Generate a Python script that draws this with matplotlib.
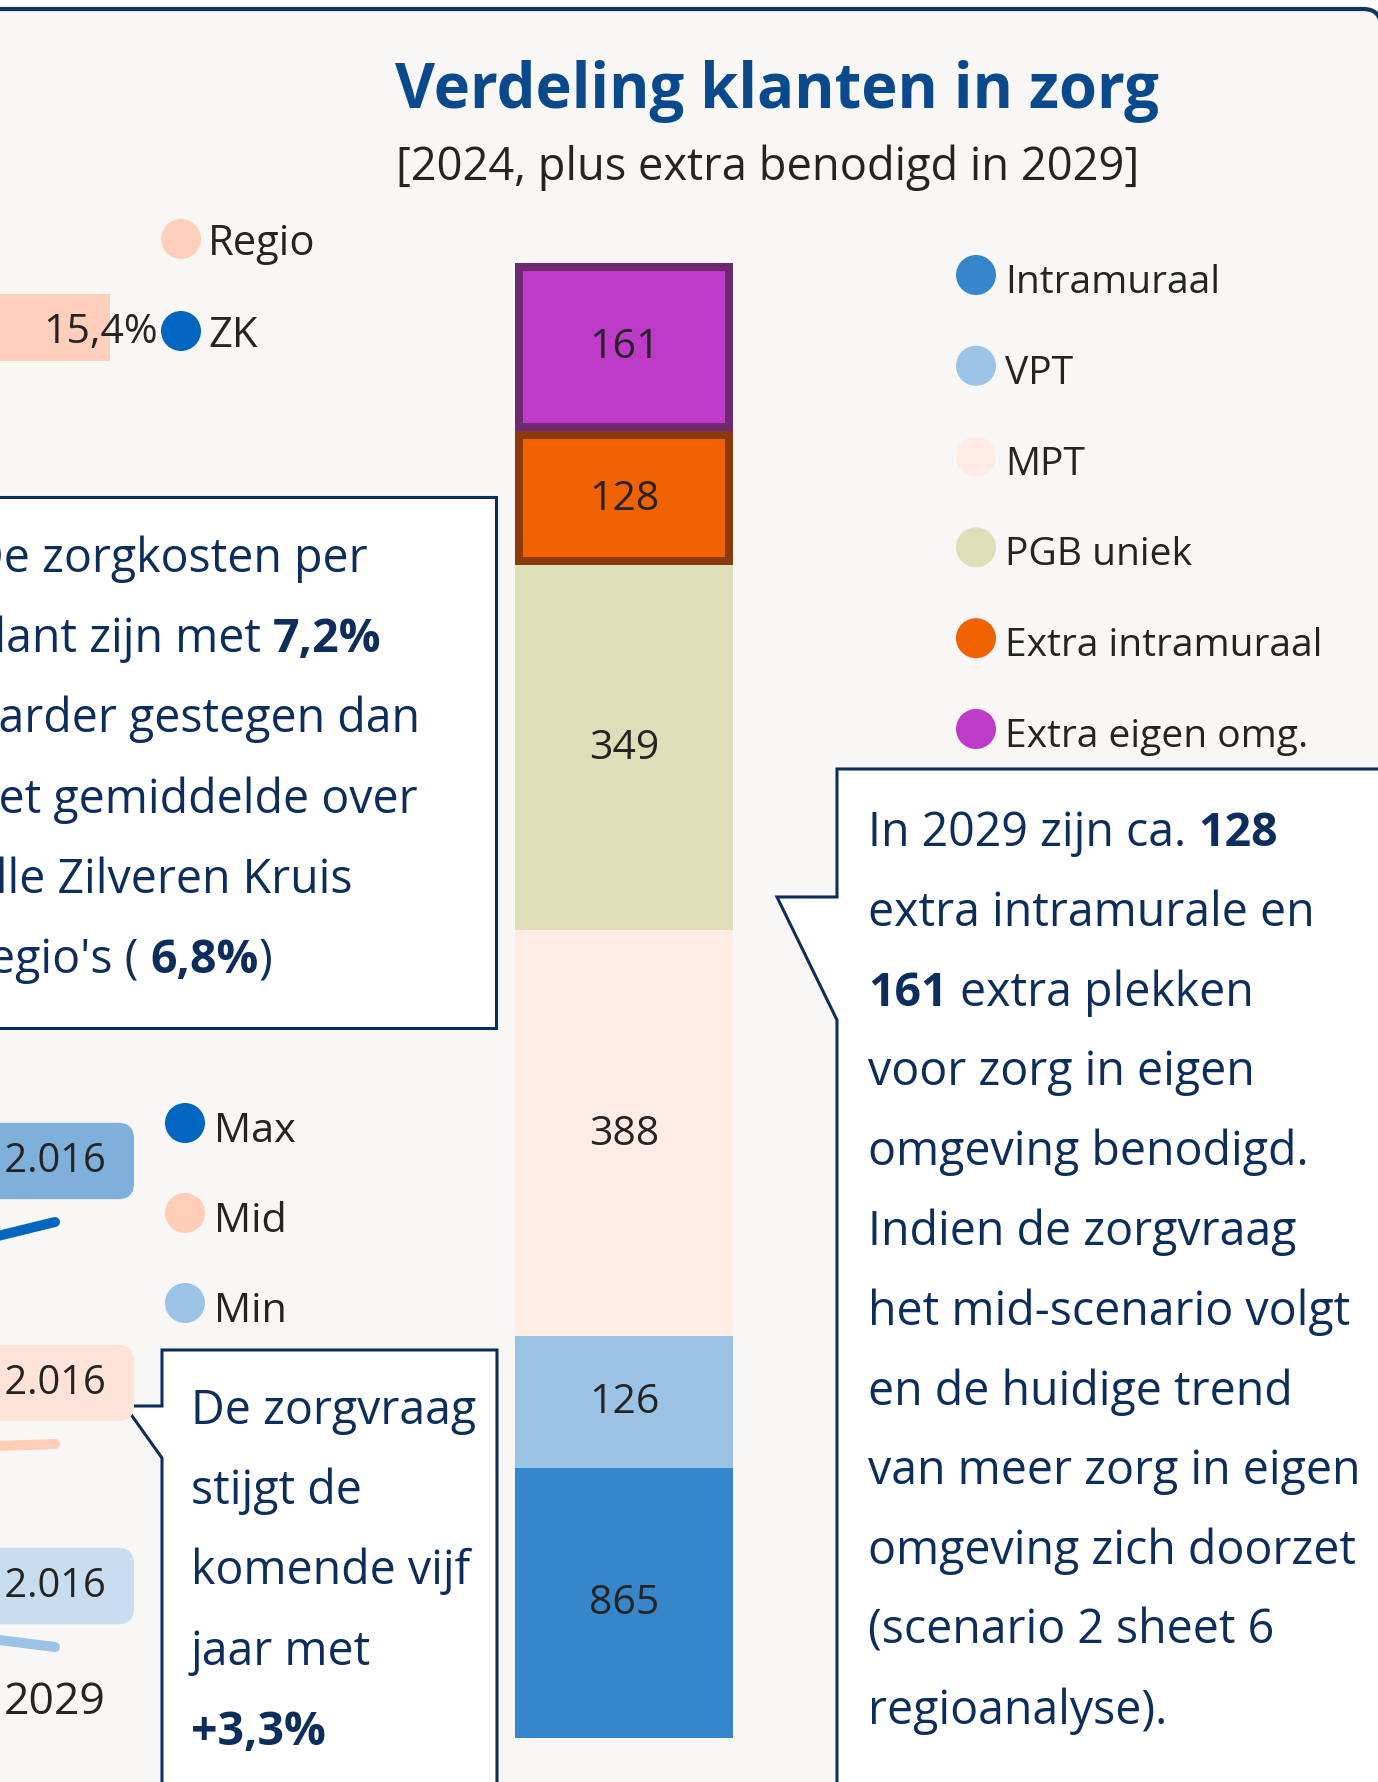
import numpy as np
import matplotlib
matplotlib.use('Agg')
import matplotlib.pyplot as plt
import matplotlib.patches as mpatches

plt.rcParams['font.family'] = ['Open Sans', 'DejaVu Sans']

W, H, DPI = 1378, 1783, 100

# ---- data -----------------------------------------------------------------
segments = ['Intramuraal', 'VPT', 'MPT', 'PGB uniek',
            'Extra intramuraal', 'Extra eigen omg.']
counts = [865, 126, 388, 349, 128, 161]
seg_colors = ['#3586CA', '#9AC3E5', '#FFECE5', '#DEDFB8', '#F06100', '#BE3AC8']
seg_edges = [None, None, None, None, '#8A3A0B', '#6D2A70']

scenarios = ['Max', 'Mid', 'Min']
years = [2028, 2029]
demand_max = [1967, 2016]
demand_mid = [2009, 2016]
demand_min = [2041, 2016]
scen_colors = ['#0066BF', '#FFCDB8', '#9AC3E5']
scen_label_fill = ['#7FB0DC', '#FFE2D8', '#C9DDF0']

share_cats = ['Regio', 'ZK']
share_colors = ['#FFCFBC', '#0066BF']
regio_share = 15.4

NAVY = '#0D2D5C'
TXT = '#252423'
BG = '#F8F7F5'


def fr(x0, y0, x1, y1):
    """pixel box (top-left origin) -> figure fraction rect"""
    return [x0 / W, 1 - y1 / H, (x1 - x0) / W, (y1 - y0) / H]


fig = plt.figure(figsize=(W / DPI, H / DPI), dpi=DPI, facecolor='white')

# overlay in pixel units for the card, text boxes and legends
ov = fig.add_axes([0, 0, 1, 1], zorder=0)
ov.set_xlim(0, W)
ov.set_ylim(H, 0)
ov.axis('off')

card = mpatches.FancyBboxPatch((-30, 10), W + 33, 1900,
                               boxstyle='round,pad=0,rounding_size=18',
                               fc=BG, ec='#0E3462', lw=3)
ov.add_patch(card)

ov.text(777, 108, 'Verdeling klanten in zorg', ha='center', va='baseline',
        fontsize=44.3, fontweight='bold', color='#0A4A8C')
ov.text(768, 180, '[2024, plus extra benodigd in 2029]', ha='center',
        va='baseline', fontsize=32.6, color=TXT)

# ---- text boxes -------------------------------------------------------------
box1 = mpatches.Polygon([(-20, 498), (496, 498), (496, 1029), (-20, 1029)],
                        closed=True, fc='white', ec=NAVY, lw=2.2)
box2 = mpatches.Polygon([(162, 1351), (497, 1351), (497, 1820), (162, 1820),
                         (162, 1459), (125, 1407), (162, 1407)],
                        closed=True, fc='white', ec=NAVY, lw=2.2,
                        joinstyle='miter')
box3 = mpatches.Polygon([(837, 770), (1400, 770), (1400, 1820), (837, 1820),
                         (837, 1021), (777, 898), (837, 898)],
                        closed=True, fc='white', ec=NAVY, lw=2.2,
                        joinstyle='miter')
for b in (box1, box2, box3):
    ov.add_patch(b)

BOX_FS = 33.5
SPACE = 0.26 * BOX_FS * DPI / 72


def rich_line(x, y, runs):
    t = None
    for txt, bold, gap in runs:
        kw = dict(fontsize=BOX_FS, color=NAVY,
                  fontweight='bold' if bold else 'normal')
        if t is None:
            t = ov.text(x, y, txt, ha='left', va='baseline', **kw)
        else:
            t = ov.annotate(txt, xy=(1, 0), xycoords=t,
                            xytext=(SPACE if gap else 0, 0),
                            textcoords='offset pixels',
                            ha='left', va='bottom', **kw)


box1_lines = [
    [('De zorgkosten per', False, False)],
    [('klant zijn met', False, False), ('7,2%', True, True)],
    [('harder gestegen dan', False, False)],
    [('het gemiddelde over', False, False)],
    [('alle Zilveren Kruis', False, False)],
    [("regio's (", False, False), ('6,8%', True, True), (')', False, False)],
]
box2_lines = [
    [('De zorgvraag', False, False)],
    [('stijgt de', False, False)],
    [('komende vijf', False, False)],
    [('jaar met', False, False)],
    [('+3,3%', True, False)],
]
box3_lines = [
    [('In 2029 zijn ca.', False, False), ('128', True, True)],
    [('extra intramurale en', False, False)],
    [('161', True, False), ('extra plekken', False, True)],
    [('voor zorg in eigen', False, False)],
    [('omgeving benodigd.', False, False)],
    [('Indien de zorgvraag', False, False)],
    [('het mid-scenario volgt', False, False)],
    [('en de huidige trend', False, False)],
    [('van meer zorg in eigen', False, False)],
    [('omgeving zich doorzet', False, False)],
    [('(scenario 2 sheet 6', False, False)],
    [('regioanalyse).', False, False)],
]
for i, runs in enumerate(box1_lines):
    rich_line(-30, 572 + i * 80.2, runs)
for i, runs in enumerate(box2_lines):
    rich_line(191, 1424 + i * 80.2, runs)
for i, runs in enumerate(box3_lines):
    rich_line(868, 846 + i * 79.8, runs)

# ---- legends ----------------------------------------------------------------
for i, (name, col) in enumerate(zip(segments, seg_colors)):
    y = 276 + i * 90.8
    ov.add_patch(mpatches.Circle((976, y), 20, fc=col, ec='none'))
    ov.text(1005, y + 17, name, ha='left', va='baseline', fontsize=28.1, color=TXT)

for i, (name, col) in enumerate(zip(share_cats, share_colors)):
    y = 240 + i * 92
    ov.add_patch(mpatches.Circle((181, y), 20, fc=col, ec='none', zorder=5))
    ov.text(208, y + 15, name, ha='left', va='baseline', fontsize=30, color=TXT)

for i, (name, col) in enumerate(zip(scenarios, scen_colors)):
    y = 1124 + i * 90
    ov.add_patch(mpatches.Circle((185, y), 20, fc=col, ec='none'))
    ov.text(214, y + 18, name, ha='left', va='baseline', fontsize=29.8, color=TXT)

# ---- regio share bar (cropped) ---------------------------------------------
rx = fig.add_axes(fr(-198, 295, 110, 362), zorder=1)
rx.barh(0, regio_share, height=1, color=share_colors[0], linewidth=0)
rx.set_xlim(0, regio_share)
rx.set_ylim(-0.5, 0.5)
rx.axis('off')
rx.annotate(f'{regio_share:.1f}%'.replace('.', ','), xy=(regio_share, 0),
            xytext=(48, -14), textcoords='offset pixels', ha='right',
            va='baseline', fontsize=29.5, color=TXT, annotation_clip=False)

# ---- stacked bar ------------------------------------------------------------
Y0 = 607
bx = fig.add_axes(fr(515, 264, 733, 1739), zorder=2)
bx.patch.set_visible(False)
bottoms = np.concatenate([[0], np.cumsum(counts)[:-1]])
bars = bx.bar(0, counts, bottom=bottoms, width=1, color=seg_colors, linewidth=0)
for rect, ec in zip(bars, seg_edges):
    if ec:
        rect.set_edgecolor(ec)
        rect.set_linewidth(11.5)
        rect.set_clip_path(rect)
bx.set_xlim(-0.5, 0.5)
bx.set_ylim(Y0, sum(counts))
bx.axis('off')
for b, c in zip(bottoms, counts):
    yc = (max(b, Y0) + b + c) / 2
    bx.text(0, yc, f'{c}', ha='center', va='center', fontsize=29.5, color=TXT)

# ---- scenario line panels (cropped) -----------------------------------------
demand = [demand_max, demand_mid, demand_min]
end_px = [1223, 1445, 1648]
for vals, col, fill, yp in zip(demand, scen_colors, scen_label_fill, end_px):
    pan = fig.add_axes(fr(-145, yp - 150, 55, yp + 150), zorder=3)
    pan.patch.set_visible(False)
    pan.plot(years, vals, color=col, lw=7.2, solid_capstyle='round',
             clip_on=False)
    pan.set_xlim(years[0], years[-1])
    pan.set_ylim(vals[-1] - 150, vals[-1] + 150)
    pan.axis('off')
    lab = f'{vals[-1]:,}'.replace(',', '.')
    pan.annotate(f' {lab} ', xy=(years[-1], vals[-1]), xytext=(0, 61),
                 textcoords='offset pixels', ha='center', va='center',
                 fontsize=28.7, color=TXT, annotation_clip=False,
                 bbox=dict(boxstyle='round,pad=0.45,rounding_size=0.4',
                           fc=fill, ec='none'))
pan.annotate(f'{years[-1]}', xy=(years[-1], demand_min[-1]), xytext=(0, -55),
             textcoords='offset pixels', ha='center', va='center',
             fontsize=32, color=TXT, annotation_clip=False)

fig.savefig('out.png', dpi=DPI, facecolor='white')
